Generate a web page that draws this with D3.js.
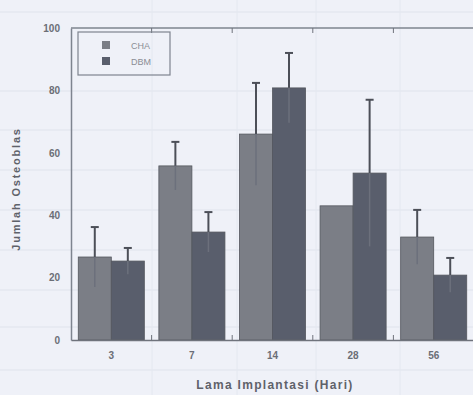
<!DOCTYPE html>
<html lang="en">
<head>
<meta charset="utf-8">
<title>Jumlah Osteoblas</title>
<script src="https://d3js.org/d3.v7.min.js"></script>
<style>
  body { margin: 0; background: #eff1f8; }
  svg { display: block; }
  .tick text { font-family: "Liberation Sans", Arial, sans-serif; font-weight: bold; fill: #6b6e76; }
</style>
</head>
<body>
<svg id="chart" width="473" height="395"></svg>
<script>
// data
const days = ["3", "7", "14", "28", "56"];
const series = ["CHA", "DBM"];
const cha = [26.6, 55.8, 66, 43, 33];
const chaErr = [9.6, 7.7, 16.4, 0, 8.7];
const dbm = [25.3, 34.6, 80.8, 53.5, 20.8];
const dbmErr = [4.2, 6.4, 11.2, 23.5, 5.5];
const yTicks = [0, 20, 40, 60, 80, 100];

const colors = { CHA: "#7b7e86", DBM: "#595e6c" };

let margin = { top: 28, right: 0, bottom: 55, left: 71 };
let width = 473, height = 395;

let svg = d3.select("#chart");

// faint ruling of the scanned page behind the chart
let ruling = svg.append("g").style("stroke", "#dfe3ec").style("stroke-width", 1);
[12, 91, 130, 170, 210, 250, 290, 327, 370].forEach(yy => {
  ruling.append("line").attr("x1", 0).attr("x2", width).attr("y1", yy).attr("y2", yy);
});
[152, 237, 316, 400].forEach(xx => {
  ruling.append("line").attr("x1", xx).attr("x2", xx).attr("y1", 0).attr("y2", height)
    .style("stroke", "#e4e8f0");
});

let x = d3.scaleBand()
  .domain(days)
  .range([margin.left, width - margin.right + 1])
  .paddingInner(0)
  .paddingOuter(0);

let xSub = d3.scaleBand()
  .domain(series)
  .range([0, x.bandwidth()])
  .paddingOuter(0.22);

let y = d3.scaleLinear()
  .domain([0, 100])
  .range([340, margin.top]);

let rows = days.map((d, i) => ({
  day: d,
  vals: [
    { key: "CHA", v: cha[i], e: chaErr[i] },
    { key: "DBM", v: dbm[i], e: dbmErr[i] }
  ]
}));

// bars
let groups = svg.append("g")
  .selectAll("g")
  .data(rows)
  .join("g")
  .attr("transform", d => `translate(${x(d.day)},0)`);

groups.selectAll("rect")
  .data(d => d.vals)
  .join("rect")
  .attr("x", d => xSub(d.key))
  .attr("y", d => y(d.v))
  .attr("width", xSub.bandwidth())
  .attr("height", d => y(0) - y(d.v))
  .style("fill", d => colors[d.key])
  .style("stroke", "#55585f")
  .style("stroke-width", 0.8);

// error bars
let err = groups.selectAll("g.err")
  .data(d => d.vals.filter(v => v.e > 0))
  .join("g")
  .attr("class", "err")
  .attr("transform", d => `translate(${xSub(d.key) + xSub.bandwidth() / 2},0)`);

err.append("line")
  .attr("y1", d => y(d.v + d.e))
  .attr("y2", d => y(d.v))
  .style("stroke", "#4c4f58")
  .style("stroke-width", 2);

err.append("line")
  .attr("y1", d => y(d.v))
  .attr("y2", d => y(d.v - d.e))
  .style("stroke", "#6c707c")
  .style("stroke-width", 1.5);

err.append("line")
  .attr("x1", -4).attr("x2", 4)
  .attr("y1", d => y(d.v + d.e))
  .attr("y2", d => y(d.v + d.e))
  .style("stroke", "#4c4f58")
  .style("stroke-width", 2);

// axes
let yAxis = svg.append("g")
  .attr("transform", `translate(${margin.left},0)`)
  .call(d3.axisLeft(y).tickValues(yTicks).tickSize(0).tickPadding(11));
yAxis.select(".domain").style("stroke", "#7e848f").style("stroke-width", 1.5);
yAxis.selectAll(".tick text").style("font-size", "10px");

let xAxis = svg.append("g")
  .attr("transform", `translate(0,${y(0)})`)
  .call(d3.axisBottom(x).tickSize(0).tickPadding(12));
xAxis.select(".domain").style("stroke", "#6f737c").style("stroke-width", 1.5);
xAxis.selectAll(".tick text").style("font-size", "10px");

// category separator ticks at bottom and top
let seps = days.slice(1).map(d => x(d));
svg.append("g").selectAll("line")
  .data(seps)
  .join("line")
  .attr("x1", d => d).attr("x2", d => d)
  .attr("y1", y(0) - 5).attr("y2", y(0))
  .style("stroke", "#6f737c");

svg.append("line")
  .attr("x1", margin.left).attr("x2", width)
  .attr("y1", y(100)).attr("y2", y(100))
  .style("stroke", "#7e848f").style("stroke-width", 1.5);

svg.append("g").selectAll("line")
  .data(seps)
  .join("line")
  .attr("x1", d => d).attr("x2", d => d)
  .attr("y1", y(100)).attr("y2", y(100) + 5)
  .style("stroke", "#6f737c");

// legend
let legend = svg.append("g").attr("transform", "translate(78,32)");
legend.append("rect")
  .attr("width", 92).attr("height", 43)
  .style("fill", "none")
  .style("stroke", "#7e848f")
  .style("stroke-width", 1.2);

let li = legend.selectAll("g.item")
  .data(series)
  .join("g")
  .attr("class", "item")
  .attr("transform", (d, i) => `translate(24,${9 + i * 16})`);

li.append("rect")
  .attr("width", 8).attr("height", 8)
  .style("fill", d => colors[d]);

li.append("text")
  .attr("x", 29).attr("y", 8)
  .style("font-family", "Liberation Sans, Arial, sans-serif")
  .style("font-size", "9px")
  .style("fill", "#8a8d95")
  .text(d => d);

// axis titles
svg.append("text")
  .attr("transform", `translate(20,189) rotate(-90)`)
  .attr("text-anchor", "middle")
  .style("font-family", "Liberation Sans, Arial, sans-serif")
  .style("font-size", "11px")
  .style("letter-spacing", "1.8px")
  .style("font-weight", "bold")
  .style("fill", "#5f626a")
  .text("Jumlah Osteoblas");

svg.append("text")
  .attr("x", 275).attr("y", 389)
  .attr("text-anchor", "middle")
  .style("font-family", "Liberation Sans, Arial, sans-serif")
  .style("font-size", "12px")
  .style("letter-spacing", "1.3px")
  .style("font-weight", "bold")
  .style("fill", "#5f626a")
  .text("Lama Implantasi (Hari)");
</script>
</body>
</html>
